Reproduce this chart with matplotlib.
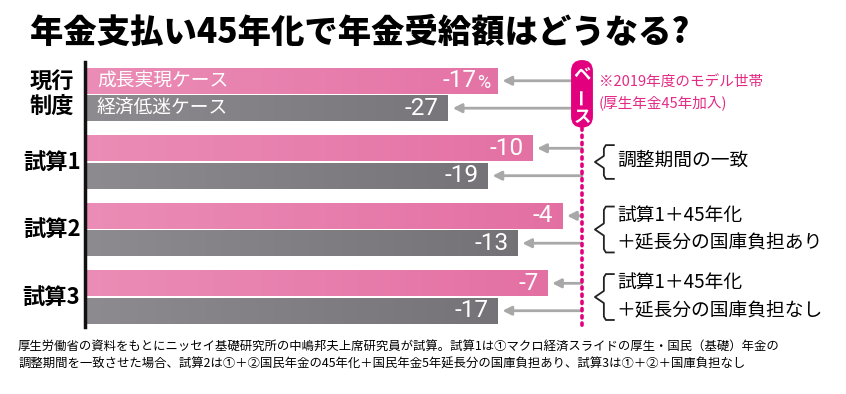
import numpy as np
import matplotlib
matplotlib.use('Agg')
import matplotlib.pyplot as plt
from matplotlib.patches import FancyBboxPatch
from matplotlib.colors import LinearSegmentedColormap

plt.rcParams['font.family'] = ['Noto Sans CJK JP', 'DejaVu Sans']

# データ
title = '年金支払い45年化で年金受給額はどうなる?'
groups = ['現行\n制度', '試算1', '試算2', '試算3']
case_names = ['成長実現ケース', '経済低迷ケース']
growth = [-17, -10, -4, -7]        # 成長実現ケース (%)
stagnation = [-27, -19, -13, -17]  # 経済低迷ケース (%)
base_note = ['※2019年度のモデル世帯', '(厚生年金45年加入)']
notes = [None, ['調整期間の一致'],
         ['試算1＋45年化', '＋延長分の国庫負担あり'],
         ['試算1＋45年化', '＋延長分の国庫負担なし']]
footnote = ['厚生労働省の資料をもとにニッセイ基礎研究所の中嶋邦夫上席研究員が試算。試算1は①マクロ経済スライドの厚生・国民（基礎）年金の',
            '調整期間を一致させた場合、試算2は①＋②国民年金の45年化＋国民年金5年延長分の国庫負担あり、試算3は①＋②＋国庫負担なし']

PINK = ['#eb8db6', '#e36ea2']
GREY = ['#8d8b8f', '#706e72']
MAGENTA = '#e2007e'
ARROW = '#a8a8a8'
NUMFONT = ['Roboto', 'DejaVu Sans']

W, H = 846, 394
fig = plt.figure(figsize=(W / 100, H / 100), dpi=100)
ax = fig.add_axes([85 / W, 1 - 327 / H, (582 - 85) / W, (327 - 62) / H])

y = np.arange(len(groups))
off = 0.203
bh = 0.385
grad = np.linspace(0, 1, 256).reshape(1, -1)
for vals, dy, cols in [(growth, -off, PINK), (stagnation, off, GREY)]:
    bars = ax.barh(y + dy, [100 + v for v in vals], height=bh, color=cols[1], zorder=1)
    cmap = LinearSegmentedColormap.from_list('g', cols)
    for b in bars:
        # バーの中をグラデーションで塗る
        im = ax.imshow(grad, cmap=cmap, aspect='auto', zorder=2,
                       extent=(0, 100, b.get_y(), b.get_y() + b.get_height()))
        im.set_clip_path(b)

ax.set_xlim(0, 100)
ax.set_ylim(3.444, -0.481)
ax.axis('off')

# 縦軸の線
ax.plot([0, 0], [-0.48, 3.44], color='#111111', lw=2.5, clip_on=False, zorder=3)

# ケース名
for name, dy in zip(case_names, [-off, off]):
    ax.text(2.4, 0 + dy, name, color='white', fontsize=13.5, va='center', ha='left', zorder=4)

# 数値と矢印
for vals, dy in [(growth, -off), (stagnation, off)]:
    for i, v in enumerate(vals):
        end = 100 + v
        yy = i + dy
        if i == 0 and dy < 0:
            ax.text(end - 1.4, yy + 0.03, '%', color='white', fontsize=13,
                    family=NUMFONT, ha='right', va='center', zorder=4)
            ax.text(end - 4.2, yy, f'{v}', color='white', fontsize=17.5,
                    family=NUMFONT, ha='right', va='center', zorder=4)
        else:
            ax.text(end - 1.8, yy, f'{v}', color='white', fontsize=17.5,
                    family=NUMFONT, ha='right', va='center', zorder=4)
        ax.annotate('', xy=(end + 1.0, yy), xytext=(100, yy),
                    arrowprops=dict(arrowstyle='-|>', color=ARROW, lw=2,
                                    mutation_scale=13, shrinkA=0, shrinkB=0),
                    annotation_clip=False)

# ベース線
ax.plot([100, 100], [0.5, 3.49], color=MAGENTA, lw=2.6,
        ls=(0, (0.6, 1.4)), dash_capstyle='round', clip_on=False, zorder=5)
pill = FancyBboxPatch((97.8, -0.51), 4.4, 1.0,
                      boxstyle='round,pad=0,rounding_size=2.2',
                      mutation_aspect=0.074, fc=MAGENTA, ec='none', clip_on=False, zorder=5)
ax.add_patch(pill)
ax.text(100, -0.29, 'ベ', color='white', fontsize=12.5, weight='bold', ha='center', va='center', zorder=6)
ax.text(100, 0.03, 'ー', color='white', fontsize=12.5, weight='bold', ha='center', va='center', rotation=90, zorder=6)
ax.text(100, 0.33, 'ス', color='white', fontsize=12.5, weight='bold', ha='center', va='center', zorder=6)
ax.text(103.4, -0.17, base_note[0], color='#e42a85', fontsize=10.5, va='center', ha='left')
ax.text(103.4, 0.13, base_note[1], color='#e42a85', fontsize=10.5, va='center', ha='left')

# グループ名
for i, g in enumerate(groups):
    ax.text(-6.7, i, g, fontsize=16, weight='bold', ha='center', va='center',
            linespacing=1.05, clip_on=False)

# 注釈と括弧
for i, lines in enumerate(notes):
    if lines is None:
        continue
    half = 0.25 if len(lines) == 1 else 0.34
    t, b = i - half, i + half
    bx = [106.4, 104.8, 104.4, 104.4, 102.6, 104.4, 104.4, 104.8, 106.4]
    by = [t, t, t + 0.05, i - 0.09, i, i + 0.09, b - 0.05, b, b]
    ax.plot(bx, by, color='#222222', lw=1.3, clip_on=False)
    if len(lines) == 1:
        ax.text(107.0, i - 0.02, lines[0], fontsize=13.5, va='center', ha='left')
    else:
        ax.text(107.0, i - 0.21, lines[0], fontsize=13.5, va='center', ha='left')
        ax.text(107.0, i + 0.2, lines[1], fontsize=13.5, va='center', ha='left')

fig.text(30 / W, 1 - 32 / H, title, fontsize=24, weight='heavy', va='center', ha='left')
fig.text(18 / W, 1 - 346 / H, footnote[0], fontsize=8.9, va='center', ha='left')
fig.text(18 / W, 1 - 364 / H, footnote[1], fontsize=8.9, va='center', ha='left')

fig.savefig('out.png', dpi=100, facecolor='white')
